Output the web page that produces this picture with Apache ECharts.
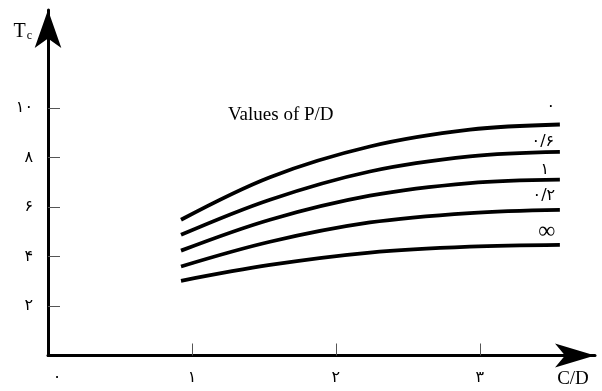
<!DOCTYPE html>
<html><head><meta charset="utf-8">
<script src="https://cdn.jsdelivr.net/npm/echarts@6/dist/echarts.min.js"></script>
<style>html,body{margin:0;padding:0;background:#fff}#c{width:602px;height:391px}</style>
</head><body><div id="c"></div>
<script>
// ---- data ----
const xValues = [0.924, 1.542, 2.236, 2.931, 3.556];
const pd0   = [5.49, 7.21, 8.45, 9.13, 9.34];
const pd06  = [4.88, 6.30, 7.44, 8.05, 8.23];
const pd1   = [4.24, 5.49, 6.46, 6.97, 7.11];
const pd02  = [3.60, 4.60, 5.38, 5.76, 5.89];
const pdInf = [3.02, 3.66, 4.16, 4.40, 4.47];
const curveLabels = ['۰', '۰/۶', '۱', '۰/۲', '∞'];
const yTickValues = [2, 4, 6, 8, 10];
const yTickLabels = ['۲', '۴', '۶', '۸', '۱۰'];
const xTickValues = [1, 2, 3];
const xLabelValues = [0, 1, 2, 3];
const xTickLabels = ['۰', '۱', '۲', '۳'];
const chartTitle = 'Values of P/D';
const xName = 'C/D';
const yNameMain = 'T';
const yNameSub = 'c';

// ---- styling ----
const labelOffsets = [[-9, -18], [-17, -10], [-15, -10], [-16, -14], [-13, -13]];
const labelSizes = [16, 16, 16, 16, 24];
const serif = 'Liberation Serif';
const persian = 'DejaVu Sans';

const curves = [pd0, pd06, pd1, pd02, pdInf];
const last = xValues.length - 1;
const series = curves.map((ys, i) => ({
  type: 'line',
  name: curveLabels[i],
  data: xValues.map((x, j) => [x, ys[j]]),
  showSymbol: false,
  symbol: 'none',
  smooth: 0.35,
  silent: true,
  lineStyle: { color: '#000', width: 3.8 },
  itemStyle: { color: '#000' },
  markPoint: {
    symbol: 'circle',
    symbolSize: 1,
    silent: true,
    itemStyle: { color: 'rgba(0,0,0,0)' },
    label: {
      show: true, position: 'inside', offset: labelOffsets[i],
      formatter: curveLabels[i], color: '#000',
      fontSize: labelSizes[i], fontFamily: i === 4 ? serif : persian
    },
    data: [{ coord: [xValues[last], ys[last]] }]
  }
}));

const chart = echarts.init(document.getElementById('c'), null, { renderer: 'canvas' });
chart.setOption({
  animation: false,
  backgroundColor: '#fff',
  title: {
    text: chartTitle, left: 228, top: 106, padding: 0,
    textStyle: { fontFamily: serif, fontSize: 19, fontWeight: 'normal', color: '#000' }
  },
  grid: { left: 48, right: 7, top: 10, bottom: 35.5, containLabel: false },
  xAxis: {
    type: 'value', min: 0, max: 3.8,
    splitLine: { show: false },
    axisLine: { show: true, onZero: false, lineStyle: { color: '#000', width: 3 },
      symbol: ['none', 'arrow'], symbolSize: [18, 40] },
    axisTick: { show: true, inside: true, length: 12, customValues: xTickValues,
      lineStyle: { color: '#555', width: 1 } },
    axisLabel: {
      show: true, customValues: xLabelValues, showMinLabel: true, margin: 14,
      color: '#000', fontSize: 16, fontFamily: persian,
      formatter: v => {
        const i = xLabelValues.indexOf(v);
        if (i < 0) return '';
        return i === 0 ? '{z|' + xTickLabels[i] + '}' : xTickLabels[i];
      },
      rich: { z: { padding: [0, 0, 0, 18], fontSize: 16, fontFamily: persian, color: '#000' } }
    },
    name: xName, nameLocation: 'end', nameGap: -22,
    nameTextStyle: { fontFamily: serif, fontSize: 19, color: '#000',
      align: 'center', verticalAlign: 'top', padding: [14, 0, 0, 0] }
  },
  yAxis: {
    type: 'value', min: 0, max: 13.97,
    splitLine: { show: false },
    axisLine: { show: true, onZero: false, lineStyle: { color: '#000', width: 3 },
      symbol: ['none', 'arrow'], symbolSize: [20, 38] },
    axisTick: { show: true, inside: true, length: 12, customValues: yTickValues,
      lineStyle: { color: '#555', width: 1 } },
    axisLabel: {
      show: true, customValues: yTickValues, margin: 15,
      color: '#000', fontSize: 16, fontFamily: persian,
      formatter: v => { const i = yTickValues.indexOf(v); return i < 0 ? '' : yTickLabels[i]; }
    },
    name: '{t|' + yNameMain + '}{c|' + yNameSub + '}',
    nameLocation: 'end', nameGap: -22,
    nameTextStyle: {
      align: 'right', verticalAlign: 'middle', padding: [0, 16, 0, 0],
      rich: {
        t: { fontFamily: serif, fontSize: 20, lineHeight: 20, verticalAlign: 'top', color: '#000' },
        c: { fontFamily: serif, fontSize: 12, lineHeight: 12, verticalAlign: 'bottom', padding: [17, 0, 0, 1], color: '#000' }
      }
    }
  },
  series: series
});
</script>
</body></html>
